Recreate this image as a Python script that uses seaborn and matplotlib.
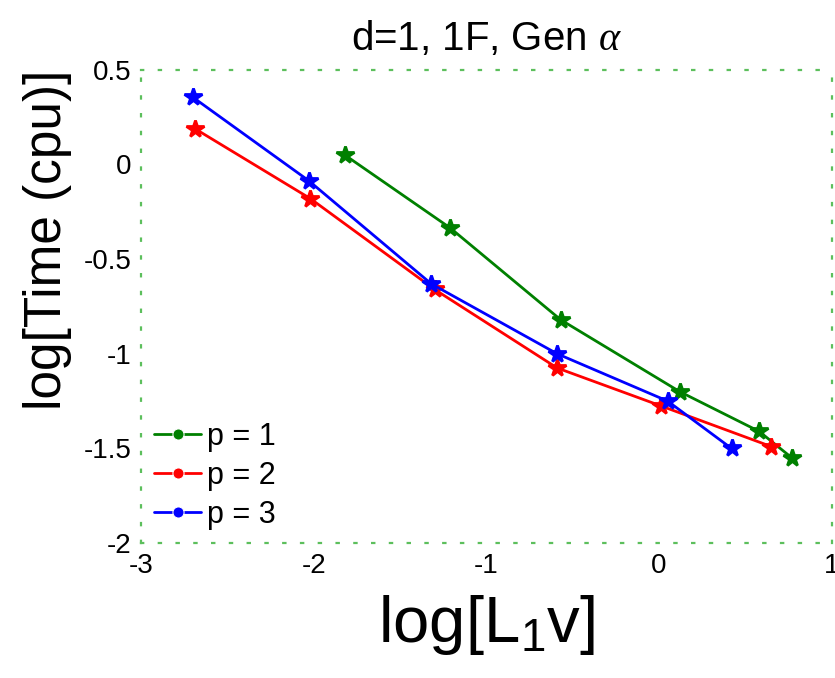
import numpy as np
import pandas as pd
import matplotlib
matplotlib.use("Agg")
import matplotlib.pyplot as plt
import seaborn as sns

# values (log10 scale)
x_p1 = [-1.82, -1.21, -0.57, 0.12, 0.58, 0.77]
y_p1 = [0.05, -0.335, -0.82, -1.20, -1.41, -1.55]

x_p2 = [-2.69, -2.02, -1.30, -0.59, 0.01, 0.65]
y_p2 = [0.19, -0.18, -0.66, -1.075, -1.275, -1.49]

x_p3 = [-2.70, -2.03, -1.32, -0.59, 0.05, 0.42]
y_p3 = [0.355, -0.085, -0.63, -1.00, -1.25, -1.50]

labels = ['p = 1', 'p = 2', 'p = 3']
colors = ['#008000', '#ff0000', '#0000ff']

xticks = [-3, -2, -1, 0, 1]
yticks = [-2, -1.5, -1, -0.5, 0, 0.5]
ytick_labels = ['-2', '-1.5', '-1', '-0.5', '0', '0.5']

sns.set_style('white')
plt.rcParams['font.family'] = ['Liberation Sans', 'DejaVu Sans']
plt.rcParams['mathtext.fontset'] = 'custom'
plt.rcParams['mathtext.rm'] = 'Liberation Sans'
plt.rcParams['mathtext.it'] = 'Liberation Serif:italic'
plt.rcParams['axes.unicode_minus'] = False
plt.rcParams['text.color'] = 'black'
plt.rcParams['axes.labelcolor'] = 'black'
plt.rcParams['xtick.color'] = 'black'
plt.rcParams['ytick.color'] = 'black'

df = pd.concat([
    pd.DataFrame({'x': x_p1, 'y': y_p1, 'p': labels[0]}),
    pd.DataFrame({'x': x_p2, 'y': y_p2, 'p': labels[1]}),
    pd.DataFrame({'x': x_p3, 'y': y_p3, 'p': labels[2]}),
])

fig = plt.figure(figsize=(8.35, 6.78), dpi=100)
ax = fig.add_axes([0.169, 0.199, 0.827, 0.698])

sns.lineplot(data=df, x='x', y='y', hue='p', palette=colors, sort=False,
             marker='*', markersize=13, linewidth=2,
             estimator=None, ax=ax)
for ln, c in zip(ax.lines, colors):
    ln.set_markeredgecolor(c)
    ln.set_markeredgewidth(2)

ax.set_xlim(-3, 1)
ax.set_ylim(-2, 0.5)
ax.set_xticks(xticks)
ax.set_yticks(yticks)
ax.set_yticklabels(ytick_labels)
ax.tick_params(length=0, labelsize=20, pad=7)

for s in ax.spines.values():
    s.set_visible(True)
    s.set_linestyle((0, (1, 7)))
    s.set_color('#5cbf5c')
    s.set_linewidth(1.6)

ax.set_title(r'd=1, 1F, Gen $\alpha$', fontsize=29, pad=14)
ax.set_xlabel(r'log[L$_1$v]', fontsize=47, labelpad=10)
ax.set_ylabel('log[Time (cpu)]', fontsize=37)
ax.yaxis.set_label_coords(-0.1, 0.64)

leg = ax.legend(loc='upper left', bbox_to_anchor=(-0.008, 0.295), frameon=False,
                fontsize=22, handlelength=1.55, handletextpad=0.2,
                labelspacing=0.3, borderaxespad=0.2)
for h in leg.legend_handles:
    h.set_markersize(8)
    h.set_marker('o')

fig.savefig('out.png', dpi=100)
